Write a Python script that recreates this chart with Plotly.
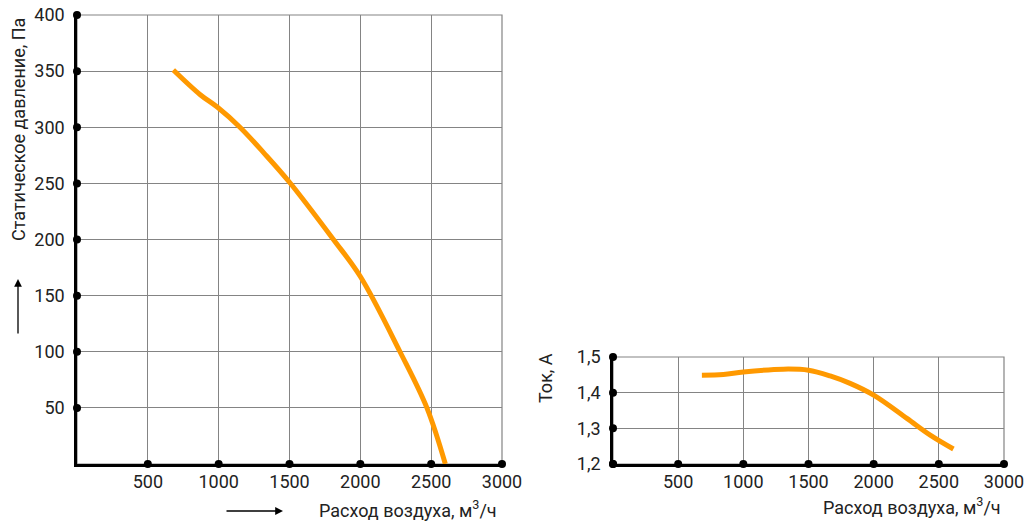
import plotly.graph_objects as go

# кривые вентилятора
flow_p = [680, 870, 990, 1150, 1320, 1500, 1810, 2000, 2280, 2470, 2600]
pressure = [351, 329, 318, 300, 277, 251, 200, 167, 100, 50, 0]

flow_i = [682, 847, 1000, 1306, 1500, 1666, 1819, 2000, 2255, 2434, 2612]
current = [1.449, 1.451, 1.458, 1.466, 1.463, 1.447, 1.426, 1.393, 1.328, 1.281, 1.242]

x_ticks = [500, 1000, 1500, 2000, 2500, 3000]
p_ticks = [50, 100, 150, 200, 250, 300, 350, 400]
i_ticks = [1.2, 1.3, 1.4, 1.5]
i_labels = ["1,2", "1,3", "1,4", "1,5"]

W, H = 1024, 523
ORANGE = "#FF9900"
GRID = "#848484"
FONT = "Roboto"


def px(x):
    return x / W


def py(y):
    return (H - y) / H


fig = go.Figure()

fig.add_trace(go.Scatter(x=flow_p, y=pressure, mode="lines",
                         line=dict(color=ORANGE, width=5, shape="spline"),
                         xaxis="x", yaxis="y"))
fig.add_trace(go.Scatter(x=x_ticks, y=[0] * len(x_ticks), mode="markers",
                         marker=dict(color="black", size=8), cliponaxis=False,
                         xaxis="x", yaxis="y"))
fig.add_trace(go.Scatter(x=[0] * len(p_ticks), y=p_ticks, mode="markers",
                         marker=dict(color="black", size=8), cliponaxis=False,
                         xaxis="x", yaxis="y"))

fig.add_trace(go.Scatter(x=flow_i, y=current, mode="lines",
                         line=dict(color=ORANGE, width=5, shape="spline"),
                         xaxis="x2", yaxis="y2"))
fig.add_trace(go.Scatter(x=[0] + x_ticks, y=[1.2] * (len(x_ticks) + 1), mode="markers",
                         marker=dict(color="black", size=8), cliponaxis=False,
                         xaxis="x2", yaxis="y2"))
fig.add_trace(go.Scatter(x=[0] * len(i_ticks), y=i_ticks, mode="markers",
                         marker=dict(color="black", size=8), cliponaxis=False,
                         xaxis="x2", yaxis="y2"))

ax_common = dict(showgrid=True, gridcolor=GRID, gridwidth=1.2,
                 showline=True, linecolor="black", linewidth=2.5,
                 zeroline=False, ticks="", automargin=False,
                 ticklabeloverflow="allow",
                 tickfont=dict(size=18, color="#222"))

fig.update_layout(
    width=W, height=H,
    margin=dict(l=0, r=0, t=0, b=0),
    paper_bgcolor="white", plot_bgcolor="white",
    showlegend=False,
    font=dict(family=FONT, color="#222"),
    xaxis=dict(domain=[px(77), px(502)], range=[0, 3000], tickvals=x_ticks,
               anchor="y", ticklabelstandoff=0, **ax_common),
    yaxis=dict(domain=[py(464), py(15)], range=[0, 400], tickvals=p_ticks,
               anchor="x", ticklabelstandoff=6, **ax_common),
    xaxis2=dict(domain=[px(613), px(1004)], range=[0, 3000], tickvals=x_ticks,
                anchor="y2", ticklabelstandoff=0, **ax_common),
    yaxis2=dict(domain=[py(464), py(357)], range=[1.2, 1.5], tickvals=i_ticks,
                ticktext=i_labels, anchor="x2", ticklabelstandoff=6, **ax_common),
)

# серая рамка сверху и справа
for xa, ya in (("x", "y"), ("x2", "y2")):
    fig.add_shape(type="rect", xref=xa + " domain", yref=ya + " domain",
                  x0=0, x1=1, y0=0, y1=1, line=dict(color=GRID, width=1.2),
                  layer="below")

# подписи осей
fig.add_annotation(text="Статическое давление, Па", xref="paper", yref="paper",
                   x=px(18), y=py(130), textangle=-90, showarrow=False,
                   xanchor="center", yanchor="middle", font=dict(size=18))
fig.add_annotation(text="", xref="paper", yref="paper", x=px(18), y=py(279),
                   ax=0, ay=56, showarrow=True, arrowhead=2, arrowsize=1.2,
                   arrowwidth=1.3, arrowcolor="black")
fig.add_annotation(text="Расход воздуха, м<sup>3</sup>/ч", xref="paper", yref="paper",
                   x=px(408), y=py(509), showarrow=False,
                   xanchor="center", yanchor="middle", font=dict(size=18))
fig.add_annotation(text="", xref="paper", yref="paper", x=px(283), y=py(511),
                   ax=-58, ay=0, showarrow=True, arrowhead=2, arrowsize=1.2,
                   arrowwidth=1.3, arrowcolor="black")

fig.add_annotation(text="Ток, А", xref="paper", yref="paper",
                   x=px(545), y=py(378), textangle=-90, showarrow=False,
                   xanchor="center", yanchor="middle", font=dict(size=18))
fig.add_annotation(text="Расход воздуха, м<sup>3</sup>/ч", xref="paper", yref="paper",
                   x=px(912), y=py(506), showarrow=False,
                   xanchor="center", yanchor="middle", font=dict(size=18))

# убрать отступ страницы, чтобы фигура заняла окно целиком
fig.write_html("out.html", config={"displayModeBar": False},
               post_script="document.body.style.margin='0';")
